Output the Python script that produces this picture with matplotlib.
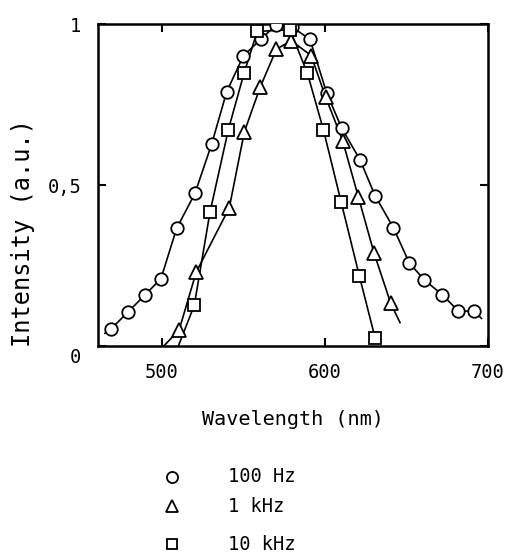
import matplotlib
matplotlib.use("Agg")
import matplotlib.pyplot as plt
from matplotlib.lines import Line2D
from matplotlib.transforms import ScaledTranslation

# 100 Hz (circles)
wl_100hz = [468.5, 479.3, 489.6, 499.4, 509.0, 520.2, 530.5, 539.7, 549.9, 560.7,
            569.9, 580.0, 590.8, 601.0, 610.2, 621.5, 630.7, 641.9, 651.7, 660.9,
            672.0, 681.8, 691.4]
int_100hz = [0.052, 0.107, 0.159, 0.21, 0.366, 0.474, 0.628, 0.79, 0.901, 0.953,
             0.997, 0.99, 0.952, 0.786, 0.677, 0.578, 0.467, 0.368, 0.258, 0.206,
             0.159, 0.109, 0.109]
curve_100hz_ends = ([465.0, 696.0], [0.04, 0.086])

# 1 kHz (triangles)
wl_1khz = [510.5, 521.0, 541.3, 550.5, 560.3, 570.2, 579.3, 591.5, 600.3, 610.8,
           620.4, 630.0, 640.3]
int_1khz = [0.05, 0.23, 0.43, 0.665, 0.805, 0.922, 0.948, 0.902, 0.774, 0.638,
            0.464, 0.29, 0.133]
curve_1khz_ends = ([501.0, 646.0], [0.0, 0.073])

# 10 kHz (squares)
wl_10khz = [519.8, 529.4, 540.7, 550.3, 558.4, 578.5, 589.2, 599.0, 609.8,
            621.0, 630.7]
int_10khz = [0.127, 0.415, 0.672, 0.847, 0.977, 0.982, 0.847, 0.672, 0.449,
             0.219, 0.026]
curve_10khz_ends = ([510.0, None], [0.0, None])

legend_labels = ["100 Hz", "1 kHz", "10 kHz"]

plt.rcParams["font.family"] = ["DejaVu Sans Mono"]

fig = plt.figure(figsize=(5.10, 5.53), dpi=100)
ax = fig.add_axes([0.192, 0.374, 0.765, 0.5826])

series = [
    (wl_100hz, int_100hz, curve_100hz_ends, "o", 9.0, 3),
    (wl_1khz, int_1khz, curve_1khz_ends, "^", 9.5, 4),
    (wl_10khz, int_10khz, curve_10khz_ends, "s", 8.0, 5),
]
for wl, val, ends, marker, ms, z in series:
    xs, ys = list(wl), list(val)
    if ends[0][0] is not None:
        xs = [ends[0][0]] + xs
        ys = [ends[1][0]] + ys
    if ends[0][1] is not None:
        xs = xs + [ends[0][1]]
        ys = ys + [ends[1][1]]
    ax.plot(xs, ys, color="black", lw=1.2, zorder=2)
    ax.plot(wl, val, linestyle="none", marker=marker, ms=ms, mfc="white",
            mec="black", mew=1.3, zorder=z)

ax.set_xlim(460.7, 700)
ax.set_ylim(0, 1)
ax.set_xticks([500, 600, 700])
ax.set_yticks([0, 0.5, 1])
ax.set_yticklabels(["0", "0,5", "1"])
ax.tick_params(direction="in", length=6, width=1.5, top=True, right=True,
               labelsize=13.5, pad=12)
for spine in ax.spines.values():
    spine.set_linewidth(1.8)

# the "0" label sits a little below its tick in the original
zero_label = ax.get_yticklabels()[0]
zero_label.set_transform(zero_label.get_transform()
                         + ScaledTranslation(0, -0.09, fig.dpi_scale_trans))

ax.set_xlabel("Wavelength (nm)", fontsize=14.5, labelpad=20)
fig.text(23 / 510, 1 - 233 / 553, "Intensity (a.u.)", fontsize=17, rotation=90,
         ha="center", va="center")

# legend drawn below the axes
markers = ["o", "^", "s"]
legend_y = [1 - 477 / 553, 1 - 506 / 553, 1 - 544 / 553]
for m, lab, y in zip(markers, legend_labels, legend_y):
    fig.add_artist(Line2D([0.338], [y], marker=m, ms=8 if m != "s" else 7,
                          mfc="white", mec="black", mew=1.3, linestyle="none",
                          transform=fig.transFigure))
    fig.text(0.447, y, lab, fontsize=13.5, ha="left", va="center")

fig.savefig("out.png", dpi=100)
